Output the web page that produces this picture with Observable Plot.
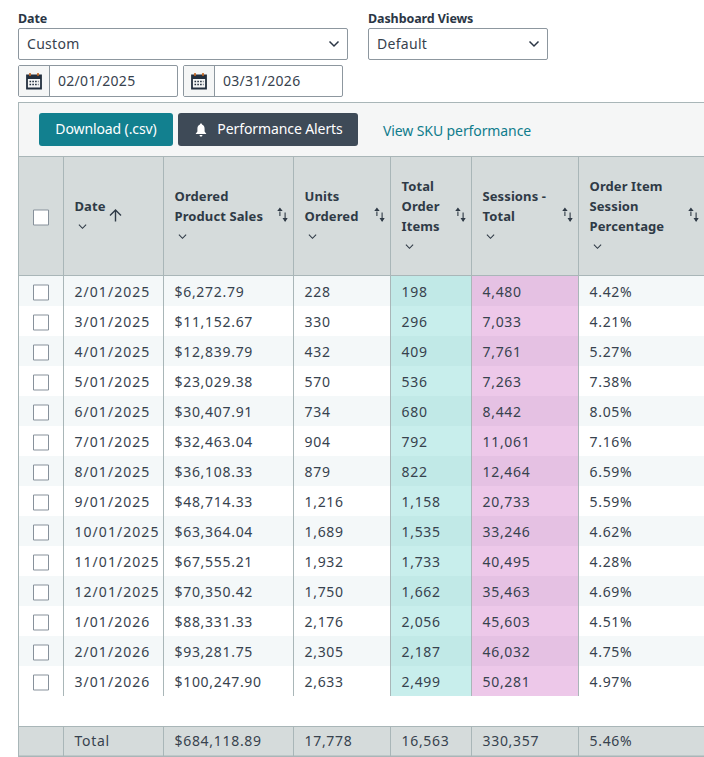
<!DOCTYPE html>
<html><head><meta charset="utf-8">
<script src="https://cdn.jsdelivr.net/npm/d3@7"></script>
<script src="https://cdn.jsdelivr.net/npm/@observablehq/plot@0.6"></script>
<style>
html,body{margin:0;padding:0;background:#fff;width:704px;height:757px;overflow:hidden}
body{font-family:"Noto Sans",sans-serif;color:#37424e}
#controls{position:relative;height:156px;width:704px;overflow:hidden}
#controls>*{position:absolute;box-sizing:border-box}
.lab{font-weight:700;font-size:12.5px;color:#2b3645;line-height:16px;letter-spacing:-.1px}
.box{border:1px solid #8d979f;border-radius:2px;background:#fff;font-size:14px;line-height:30px;padding-left:8px;letter-spacing:.3px}
.box svg{position:absolute;top:10px}
.seg{position:absolute;left:0;top:0;width:30px;height:30px;background:#f5f6f6;border-right:1px solid #8d979f}
.seg svg{left:7px;top:6px}
.btn{border-radius:3px;color:#fff;font-size:14px;line-height:32px;text-align:center;letter-spacing:-.1px}
#plot svg{display:block}
#plot text{letter-spacing:.7px}
#plot text.datecol, #plot .datecol text{letter-spacing:1.05px}
#plot .head text{letter-spacing:.1px}
</style></head><body>
<div id="controls">
<div class="lab" style="left:18px;top:11px">Date</div>
<div class="box" style="left:18px;top:28px;width:330px;height:32px">Custom<svg width="12" height="8" style="left:309px;top:11px"><path d="M1.5 1.5L6 6L10.5 1.5" fill="none" stroke="#2b3645" stroke-width="1.5"/></svg></div>
<div class="box" style="left:18px;top:65px;width:160px;height:32px;padding-left:39px"><div class="seg"><svg width="16" height="18"><path d="M1 3.5H15V16.5H1Z" fill="none" stroke="#232f3e" stroke-width="1.8"/><path d="M1 3H15V7H1Z" fill="#232f3e"/><path d="M4 1V4M12 1V4" stroke="#c7651c" stroke-width="1.6"/><path d="M3.5 9.5h9M3.5 12.5h9" stroke="#232f3e" stroke-width="1.3" stroke-dasharray="1.6 1.2"/></svg></div>02/01/2025</div>
<div class="box" style="left:183px;top:65px;width:160px;height:32px;padding-left:39px"><div class="seg"><svg width="16" height="18"><path d="M1 3.5H15V16.5H1Z" fill="none" stroke="#232f3e" stroke-width="1.8"/><path d="M1 3H15V7H1Z" fill="#232f3e"/><path d="M4 1V4M12 1V4" stroke="#c7651c" stroke-width="1.6"/><path d="M3.5 9.5h9M3.5 12.5h9" stroke="#232f3e" stroke-width="1.3" stroke-dasharray="1.6 1.2"/></svg></div>03/31/2026</div>
<div class="lab" style="left:368px;top:11px">Dashboard Views</div>
<div class="box" style="left:368px;top:28px;width:180px;height:32px">Default<svg width="12" height="8" style="left:159px;top:11px"><path d="M1.5 1.5L6 6L10.5 1.5" fill="none" stroke="#2b3645" stroke-width="1.5"/></svg></div>
<div style="left:18px;top:102px;width:686px;height:54px;background:#f5f6f6;border-top:1px solid #a9b6b8;border-left:1px solid #a9b6b8"></div>
<div class="btn" style="left:39px;top:113px;width:134px;height:33px;background:#12808f">Download (.csv)</div>
<div class="btn" style="left:178px;top:113px;width:180px;height:33px;background:#3e4a57;padding-left:24px">Performance Alerts<svg width="12" height="14" style="position:absolute;left:17px;top:10px"><path d="M6 0.5C6.8 .5 7 1 7 1.6C9 2.2 9.6 4 9.6 6V8.6L11.4 11H.6L2.4 8.6V6C2.4 4 3 2.2 5 1.6C5 1 5.2 .5 6 .5ZM4.6 12H7.4C7.4 13 6.8 13.6 6 13.6S4.6 13 4.6 12Z" fill="#fff"/></svg></div>
<div style="left:383px;top:122px;font-size:14px;line-height:18px;color:#0f7c8c;letter-spacing:-.1px">View SKU performance</div>
</div>
<div id="plot"></div>
<script>
// ---- table values ----
const dates = ["2/01/2025","3/01/2025","4/01/2025","5/01/2025","6/01/2025","7/01/2025","8/01/2025","9/01/2025","10/01/2025","11/01/2025","12/01/2025","1/01/2026","2/01/2026","3/01/2026"];
const sales = [6272.79,11152.67,12839.79,23029.38,30407.91,32463.04,36108.33,48714.33,63364.04,67555.21,70350.42,88331.33,93281.75,100247.90];
const units = [228,330,432,570,734,904,879,1216,1689,1932,1750,2176,2305,2633];
const orderItems = [198,296,409,536,680,792,822,1158,1535,1733,1662,2056,2187,2499];
const sessions = [4480,7033,7761,7263,8442,11061,12464,20733,33246,40495,35463,45603,46032,50281];
const sessionPct = [4.42,4.21,5.27,7.38,8.05,7.16,6.59,5.59,4.62,4.28,4.69,4.51,4.75,4.97];
const totals = ["Total","$684,118.89","17,778","16,563","330,357","5.46%"];
const headers = [["Date"],["Ordered","Product Sales"],["Units","Ordered"],["Total","Order","Items"],["Sessions -","Total"],["Order Item","Session","Percentage"]];

// ---- formatting and layout ----
const fmtSales = d3.format("$,.2f"), fmtInt = d3.format(",d"), fmtPct = d => d.toFixed(2) + "%";
const columns = [sales.map(fmtSales), units.map(fmtInt), orderItems.map(fmtInt), sessions.map(fmtInt), sessionPct.map(fmtPct)];
const edges = [18,63,163,293,390,471,578,704];
const rows = d3.range(dates.length);
const cellFont = {fontFamily:"Noto Sans", fontSize:14, fill:"#37424e", textAnchor:"start", lineAnchor:"middle"};
const headFont = {fontFamily:"Noto Sans", fontSize:13, fontWeight:700, fill:"#2f3a46", textAnchor:"start", lineAnchor:"middle", className:"head"};
const grid = "#a9b6b8";

const dateTexts = dates.map((t,i) => ({t, x:1, y:i+0.5}));
const cellTexts = columns.flatMap((c,j) => c.map((t,i) => ({t, x:j+2, y:i+0.5})));
const totalTexts = totals.map((t,j) => ({t, x:j+1, y:15.5}));
const headTexts = headers.flatMap((h,j) =>
  h.map((t,k) => ({t, x:j+1, y:(h.length===1?-3.5:h.length===2?-4:-4.5)+k})));
const chevrons = headers.map((h,j) => ({x:j+1, y:h.length===1?-2.5:h.length===2?-2:-1.5}));
const sorts = headers.slice(1).map((h,j) => ({x:j+3, y:-3.1}));

const chevronSym = {draw(c){c.moveTo(-3.6,-1.8);c.lineTo(0,1.8);c.lineTo(3.6,-1.8);}};
const sortSym = {draw(c){
  c.moveTo(-2.6,-3);c.lineTo(-2.6,1.5);c.moveTo(-4.2,-4);c.lineTo(-2.6,-6);c.lineTo(-1,-4);c.closePath();
  c.moveTo(2.6,-2);c.lineTo(2.6,4);c.moveTo(1,4);c.lineTo(2.6,6.5);c.lineTo(4.2,4);c.closePath();
}};
const upSym = {draw(c){c.moveTo(0,-5.5);c.lineTo(0,6);c.moveTo(-5.5,0);c.lineTo(0,-5.5);c.lineTo(5.5,0);}};
const boxSym = {draw(c){c.rect(-7.5,-7.5,15,15);}};

const chart = Plot.plot({
  width:704, height:601, margin:0,
  x:{axis:null, type:"linear", domain:d3.range(edges.length), range:edges},
  y:{axis:null, type:"linear", domain:[-6,0,16], range:[0,120,600]},
  marks:[
    Plot.rect([0],{x1:0,x2:7,y1:-6,y2:0,fill:"#d5dbdb"}),
    Plot.rect(rows,{x1:0,x2:7,y1:i=>i,y2:i=>i+1,fill:i=>i%2?"#ffffff":"#f4f8f9"}),
    Plot.rect(rows,{x1:4,x2:5,y1:i=>i,y2:i=>i+1,fill:i=>i%2?"#c8eeec":"#c1e9e7"}),
    Plot.rect(rows,{x1:5,x2:6,y1:i=>i,y2:i=>i+1,fill:i=>i%2?"#edc8e9":"#e5c1e3"}),
    Plot.rect([0],{x1:0,x2:7,y1:15,y2:16,fill:"#d5dbdb"}),
    Plot.ruleX(d3.range(1,7),{y1:-6,y2:14,stroke:grid}),
    Plot.ruleX(d3.range(1,7),{y1:15,y2:16,stroke:grid}),
    Plot.ruleX([0],{y1:-6,y2:16,stroke:grid}),
    Plot.ruleY([-6,15],{x1:0,x2:7,stroke:grid}),
    Plot.ruleY([0],{x1:0,x2:7,stroke:grid,dy:-1}),
    Plot.ruleY([16],{x1:0,x2:7,stroke:grid,strokeWidth:2}),
    Plot.dot([{y:-3}, ...rows.map(i=>({y:i+0.5}))],{x:()=>0.5,y:"y",dy:1,symbol:boxSym,r:1,fill:"#fff",stroke:"#87919b",strokeWidth:1}),
    Plot.text(dateTexts,{x:"x",y:"y",text:"t",dx:11,dy:1,...cellFont,className:"datecol"}),
    Plot.text(cellTexts,{x:"x",y:"y",text:"t",dx:11,dy:1,...cellFont}),
    Plot.text(totalTexts,{x:"x",y:"y",text:"t",dx:11,...cellFont}),
    Plot.text(headTexts,{x:"x",y:"y",text:"t",dx:11,...headFont}),
    Plot.dot(chevrons,{x:"x",y:"y",dx:19,symbol:chevronSym,r:1,fill:"none",stroke:"#2f3a46",strokeWidth:1.1}),
    Plot.dot(sorts,{x:"x",y:"y",dx:-11,symbol:sortSym,r:1,fill:"#2f3a46",stroke:"#2f3a46",strokeWidth:1.1}),
    Plot.dot([{x:1,y:-3.05}],{x:"x",y:"y",dx:52,symbol:upSym,r:1,fill:"none",stroke:"#2f3a46",strokeWidth:1.4})
  ]
});
document.getElementById("plot").append(chart);
</script>
</body></html>
